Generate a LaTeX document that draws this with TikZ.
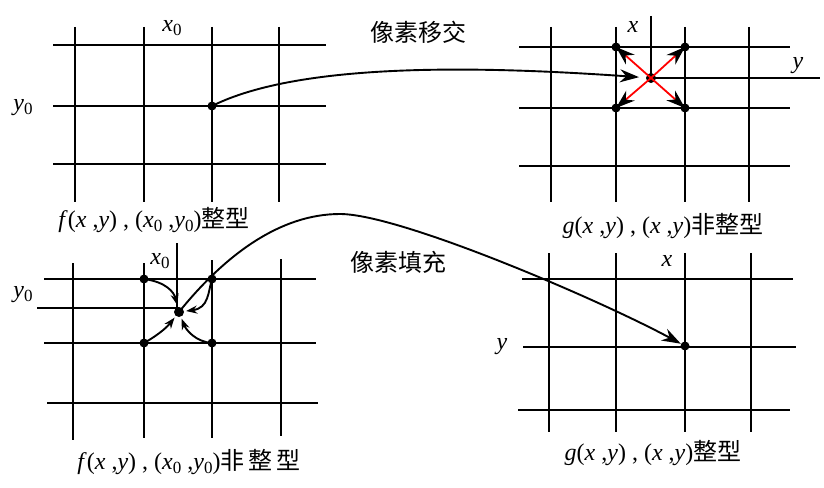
\documentclass[tikz,border=0pt]{standalone}
\usepackage{fontspec}
\setmainfont{Liberation Serif}
\newfontfamily\tms{Liberation Serif}
\newfontfamily\cjk{Noto Sans CJK SC}
\usetikzlibrary{arrows.meta}
\newcommand\sbz[1]{\raisebox{-0.35ex}{\fontsize{17}{17}\selectfont\upshape #1}}
\begin{document}
\begin{tikzpicture}[x=1pt,y=-1pt,
  gridline/.style={line width=2.6pt},
  dot/.style={circle,fill=black,inner sep=0pt,minimum size=9pt},
  lbl/.style={font=\fontsize{24}{24}\selectfont\tms,inner sep=0pt},
  ttl/.style={font=\fontsize{24}{24}\selectfont\cjk,inner sep=0pt},
  conn/.style={line width=1.9pt},
  bigtip/.style={-{Stealth[length=19pt,width=13pt,black]}},
  smalltip/.style={-{Stealth[length=11pt,width=8pt]}}]
\useasboundingbox (0,0) rectangle (824,487);
% ---- panel 1 ----
\foreach \y in {45,106,164} \draw[gridline] (53,\y) -- (326,\y);
\foreach \x in {75,144,212,279} \draw[gridline] (\x,27) -- (\x,202);
\node[dot] (a0) at (212,106) {};
\node[lbl] (a0x) at (172,28) {\textit{x}\sbz{0}};
\node[lbl] (a0y) at (23,108) {\textit{y}\sbz{0}};
\node[lbl] (cap1) at (154,220) {\textit{f}(\textit{x}\ ,\textit{y})\ ,\ (\textit{x}\sbz{0}\ ,\textit{y}\sbz{0}){\cjk 整型}};
% ---- panel 2 ----
\foreach \y in {47,108,166} \draw[gridline] (519,\y) -- (790,\y);
\draw[gridline] (651,78) -- (820,78);
\draw[gridline] (651,16) -- (651,78);
\foreach \x in {551,616,685,749} \draw[gridline] (\x,27) -- (\x,202);
\node[dot,minimum size=10pt] (b0) at (651,78) {};
\node[dot] (b1) at (616,47) {};
\node[dot] (b2) at (685,47) {};
\node[dot] (b3) at (616,108) {};
\node[dot] (b4) at (685,108) {};
\foreach \t in {b1,b2,b3,b4} \draw[red,line width=1.8pt,bigtip] (b0.center) -- (\t.center);
\node[lbl] (b0x) at (633,27) {\textit{x}};
\node[lbl] (b0y) at (798,66) {\textit{y}};
\node[lbl] (cap2) at (663,226) {\textit{g}(\textit{x}\ ,\textit{y})\ ,\ (\textit{x}\ ,\textit{y}){\cjk 非整型}};
% ---- panel 3 ----
\foreach \y in {279,343} \draw[gridline] (44,\y) -- (316,\y);
\draw[gridline] (47,403) -- (318,403);
\draw[gridline] (37,308) -- (179,308);
\draw[gridline] (177,243) -- (177,308);
\draw[gridline] (73,263) -- (73,440);
\draw[gridline] (144,263) -- (144,438);
\draw[gridline] (212,260) -- (212,438);
\draw[gridline] (281,259) -- (281,436);
\node[dot,minimum size=10pt] (c0) at (179,312) {};
\node[dot] (c1) at (144,279) {};
\node[dot] (c2) at (212,279) {};
\node[dot] (c3) at (144,343) {};
\node[dot] (c4) at (212,343) {};
\node[lbl] (c0x) at (160,261) {\textit{x}\sbz{0}};
\node[lbl] (c0y) at (23,295) {\textit{y}\sbz{0}};
\node[lbl] (cap3) at (189,462) {\textit{f}(\textit{x}\ ,\textit{y})\ ,\ (\textit{x}\sbz{0}\ ,\textit{y}\sbz{0}){\cjk 非\,整\,型}};
\draw[conn,smalltip,shorten >=2pt] (c1.center) .. controls (166,282) and (174,292) .. (c0);
\draw[conn,smalltip,shorten >=2pt] (c2.center) .. controls (208,292) and (209,308) .. (c0);
\draw[conn,smalltip,shorten >=2pt] (c3.center) .. controls (160,334) and (168,326) .. (c0);
\draw[conn,smalltip,shorten >=2pt] (c4.center) .. controls (196,342) and (186,330) .. (c0);
% ---- panel 4 ----
\draw[gridline] (522,279) -- (793,279);
\draw[gridline] (523,347) -- (796,347);
\draw[gridline] (518,410) -- (790,410);
\foreach \x in {549,616,685,751} \draw[gridline] (\x,253) -- (\x,432);
\node[dot] (d0) at (685,346) {};
\node[lbl] (d0x) at (667,261) {\textit{x}};
\node[lbl] (d0y) at (502,347) {\textit{y}};
\node[lbl] (cap4) at (653,453) {\textit{g}(\textit{x}\ ,\textit{y})\ ,\ (\textit{x}\ ,\textit{y}){\cjk 整型}};
% ---- titles ----
\node[ttl] (t1) at (418,32) {像素移交};
\node[ttl] (t2) at (398,262) {像素填充};
% ---- connectors ----
\draw[conn,bigtip,shorten >=12pt] (a0.center) .. controls (300,62) and (480,66) .. (b0.center);
\draw[conn,bigtip] (c0.center) .. controls (225,255) and (280,214) .. (340,214)
   .. controls (400,214) and (600,300) .. (d0);
\end{tikzpicture}
\end{document}
